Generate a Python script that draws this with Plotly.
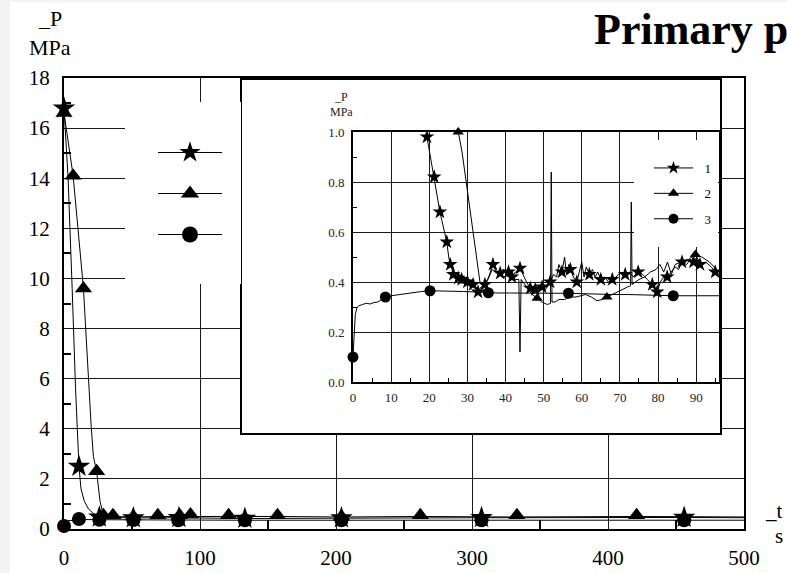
import plotly.graph_objects as go

W, H = 787, 573

# ---------------- main panel data (t in s, P in MPa) ----------------
main_t1 = [0, 3, 6, 8.5, 11, 12.5, 15, 18, 22, 26, 51, 84.5, 133, 204, 307, 456, 500]
main_p1 = [16.8, 14.0, 9.6, 5.6, 2.5, 1.6, 1.1, 0.8, 0.6, 0.47, 0.44, 0.45, 0.42, 0.44, 0.45, 0.46, 0.45]
mark1_t = [0, 11, 26, 51, 84.5, 133, 204, 307, 456]
mark1_p = [16.8, 2.5, 0.47, 0.44, 0.45, 0.42, 0.44, 0.45, 0.46]

main_t2 = [0, 6.7, 14.3, 17, 18.5, 20, 21.6, 24, 26.5, 29, 36, 51, 69, 85, 93, 121, 157, 204, 262, 333, 421, 500]
main_p2 = [16.6, 14.1, 9.6, 6.8, 5.4, 4.1, 2.9, 2.3, 1.1, 0.55, 0.5, 0.48, 0.5, 0.5, 0.52, 0.5, 0.5, 0.48, 0.5, 0.48, 0.5, 0.48]
mark2_t = [0, 6.7, 14.3, 24, 29, 36, 51, 69, 85, 93, 121, 157, 204, 262, 333, 421]
mark2_p = [16.6, 14.1, 9.6, 2.3, 0.55, 0.55, 0.5, 0.55, 0.55, 0.58, 0.55, 0.55, 0.5, 0.55, 0.55, 0.55]

main_t3 = [0, 0.5, 2, 5, 11, 26, 51, 84, 133, 204, 307, 456, 500]
main_p3 = [0.12, 0.3, 0.32, 0.33, 0.38, 0.37, 0.36, 0.35, 0.35, 0.35, 0.35, 0.35, 0.35]
mark3_t = [0, 11, 26, 51, 84, 133, 204, 307, 456]
mark3_p = [0.12, 0.4, 0.37, 0.36, 0.35, 0.35, 0.35, 0.35, 0.35]

main_xticks = [0, 100, 200, 300, 400, 500]
main_xminor = [50, 150, 250, 350, 450]
main_yticks = [0, 2, 4, 6, 8, 10, 12, 14, 16, 18]
main_yminor = [1, 3, 5, 7, 9, 11, 13, 15, 17]

# ---------------- inset data (first 96 s) ----------------
ins1_t = [19.4, 20.3, 21.3, 22.0, 22.8, 23.7, 24.6, 25.1, 25.5, 26.0, 26.3, 27.0, 27.6, 28.0, 28.5,
          29.2, 30.0, 30.7, 31.5, 32.2, 32.8, 33.6, 34.6, 35.6, 36.7, 37.6, 38.6, 39.5, 40.2, 40.8,
          41.7, 42.6, 43.8, 44.6, 45.5, 46.5, 47.8, 48.6, 49.6, 50.5, 51.7, 52.6, 53.4, 54.0, 54.8,
          55.5, 56.0, 56.6, 57.0, 57.8, 58.7, 59.3, 60.0, 60.6, 61.2, 62.0, 62.8, 63.5, 64.2, 65.0,
          66.0, 67.0, 68.0, 69.0, 70.2, 71.4, 72.5, 73.5, 74.8, 76.0, 77.2, 78.5, 79.2, 79.8, 80.6,
          81.5, 82.4, 83.5, 84.5, 85.4, 86.3, 87.5, 88.4, 89.3, 90.2, 91.0, 92.5, 94.0, 95.0, 96.0]
ins1_p = [0.98, 0.90, 0.82, 0.75, 0.68, 0.62, 0.56, 0.50, 0.47, 0.45, 0.43, 0.44, 0.415, 0.43, 0.41,
          0.42, 0.40, 0.41, 0.39, 0.38, 0.36, 0.38, 0.39, 0.42, 0.47, 0.44, 0.435, 0.45, 0.43, 0.44,
          0.42, 0.44, 0.455, 0.43, 0.40, 0.375, 0.37, 0.36, 0.38, 0.37, 0.40, 0.43, 0.42, 0.47, 0.44,
          0.50, 0.43, 0.47, 0.45, 0.42, 0.40, 0.44, 0.48, 0.42, 0.46, 0.43, 0.45, 0.42, 0.44, 0.41,
          0.42, 0.40, 0.41, 0.42, 0.44, 0.43, 0.44, 0.42, 0.44, 0.43, 0.41, 0.39, 0.37, 0.36, 0.40,
          0.42, 0.42, 0.44, 0.46, 0.45, 0.48, 0.47, 0.49, 0.48, 0.50, 0.47, 0.48, 0.46, 0.44, 0.43]
ins1_mark_t = [19.4, 21.3, 22.8, 24.6, 25.5, 26.3, 27.6, 28.5, 30.0, 31.5, 32.8, 34.6, 36.7, 38.6,
               40.8, 41.7, 43.8, 46.5, 47.8, 49.6, 51.7, 54.8, 57.0, 58.7, 62.0, 65.0, 68.0, 71.4,
               74.8, 78.5, 79.8, 82.4, 86.3, 89.3, 91.0, 95.0]
ins1_mark_p = [0.98, 0.82, 0.68, 0.56, 0.47, 0.43, 0.415, 0.41, 0.40, 0.39, 0.36, 0.39, 0.47, 0.435,
               0.44, 0.42, 0.455, 0.375, 0.37, 0.38, 0.40, 0.44, 0.45, 0.40, 0.43, 0.41, 0.41, 0.43,
               0.44, 0.39, 0.36, 0.42, 0.48, 0.48, 0.47, 0.44]

ins2_t = [27.6, 28.6, 29.6, 30.7, 31.8, 33.3, 34.3, 35.4, 36.5, 37.5, 38.6, 39.6, 40.6, 41.6, 42.6,
          43.5, 43.8, 44.1, 45.0, 46.0, 47.0, 48.3, 49.5, 51.0, 51.8, 52.0, 52.2, 53.0, 54.0, 55.5,
          57.0, 58.5, 59.6, 61.0, 62.5, 64.0, 65.3, 66.6, 68.0, 69.0, 70.5, 72.0, 72.8, 73.0, 73.2,
          74.0, 75.0, 76.5, 78.0, 79.5, 80.5, 81.5, 82.5, 83.5, 84.5, 86.0, 88.0, 89.8, 91.5, 93.5,
          95.5, 96.0]
ins2_p = [1.0, 0.92, 0.81, 0.69, 0.56, 0.40, 0.38, 0.41, 0.45, 0.44, 0.43, 0.42, 0.43, 0.42, 0.41,
          0.41, 0.12, 0.41, 0.39, 0.37, 0.35, 0.335, 0.32, 0.31, 0.315, 0.84, 0.32, 0.32, 0.33, 0.33,
          0.34, 0.34, 0.345, 0.35, 0.34, 0.325, 0.33, 0.34, 0.35, 0.36, 0.37, 0.38, 0.385, 0.72, 0.39,
          0.40, 0.41, 0.42, 0.44, 0.45, 0.47, 0.44, 0.48, 0.43, 0.47, 0.48, 0.49, 0.51, 0.50, 0.48,
          0.45, 0.44]
ins2_mark_t = [27.6, 48.3, 66.6, 89.8]
ins2_mark_p = [1.0, 0.335, 0.34, 0.51]

ins3_t = [0, 0.3, 0.6, 1.0, 1.5, 2.5, 3.5, 4.5, 5.5, 6.5, 7.5, 8.5, 10, 12, 14, 16, 18, 20.2, 23, 26,
          29, 32, 35.5, 38, 41, 44, 47, 50, 53, 56.5, 60, 64, 68, 72, 76, 80, 84, 90, 96]
ins3_p = [0.1, 0.2, 0.27, 0.295, 0.305, 0.31, 0.315, 0.312, 0.318, 0.32, 0.33, 0.34, 0.345, 0.35,
          0.355, 0.36, 0.362, 0.365, 0.365, 0.364, 0.362, 0.36, 0.357, 0.356, 0.356, 0.355, 0.355,
          0.355, 0.355, 0.355, 0.353, 0.352, 0.35, 0.35, 0.348, 0.347, 0.345, 0.345, 0.345]
ins3_mark_t = [0, 8.5, 20.2, 35.5, 56.5, 84]
ins3_mark_p = [0.1, 0.34, 0.365, 0.357, 0.355, 0.345]

ins_xticks = [0, 10, 20, 30, 40, 50, 60, 70, 80, 90]
ins_xminor = [5, 15, 25, 35, 45, 55, 65, 75, 85, 95]
ins_yticks = [0.0, 0.2, 0.4, 0.6, 0.8, 1.0]
ins_yminor = [0.1, 0.3, 0.5, 0.7, 0.9]

series_labels = ["1", "2", "3"]
symbols = ["star", "triangle-up", "circle"]

# ---------------- helpers for layout positions (pixels -> paper) ----------------
def px(x):
    return x / W


def py(y):
    return 1 - y / H


SERIF = "Liberation Serif"
fig = go.Figure()

# ---- main panel ----
main_lines = [(main_t1, main_p1), (main_t2, main_p2), (main_t3, main_p3)]
main_marks = [(mark1_t, mark1_p, 17), (mark2_t, mark2_p, 15), (mark3_t, mark3_p, 14)]
for (t, p) in main_lines:
    fig.add_trace(go.Scatter(x=t, y=p, mode="lines", line=dict(color="black", width=1),
                             xaxis="x", yaxis="y", showlegend=False, hoverinfo="skip"))
for (t, p, s), sym in zip(main_marks, symbols):
    fig.add_trace(go.Scatter(x=t, y=p, mode="markers", cliponaxis=False,
                             marker=dict(symbol=sym, size=s, color="black"),
                             xaxis="x", yaxis="y", showlegend=False, hoverinfo="skip"))

# ---- inset cover (white box with frame) ----
fig.add_trace(go.Scatter(x=[None], y=[None], xaxis="x2", yaxis="y2", showlegend=False, hoverinfo="skip"))

# ---- inset panel ----
ins_lines = [(ins1_t, ins1_p), (ins2_t, ins2_p), (ins3_t, ins3_p)]
ins_marks = [(ins1_mark_t, ins1_mark_p, 11), (ins2_mark_t, ins2_mark_p, 10), (ins3_mark_t, ins3_mark_p, 11)]
for (t, p) in ins_lines:
    fig.add_trace(go.Scatter(x=t, y=p, mode="lines", line=dict(color="black", width=1),
                             xaxis="x3", yaxis="y3", showlegend=False, hoverinfo="skip"))
for (t, p, s), sym in zip(ins_marks, symbols):
    fig.add_trace(go.Scatter(x=t, y=p, mode="markers", cliponaxis=False,
                             marker=dict(symbol=sym, size=s, color="black"),
                             xaxis="x3", yaxis="y3", showlegend=False, hoverinfo="skip"))

# ---- legends (entries only, no data) ----
for i, sym in enumerate(symbols):
    fig.add_trace(go.Scatter(x=[None], y=[None], mode="lines+markers", name="\u00a0",
                             line=dict(color="black", width=1.2),
                             marker=dict(symbol=sym, size=18, color="black"),
                             legend="legend", legendgroup="m%d" % i, xaxis="x", yaxis="y"))
for i, sym in enumerate(symbols):
    fig.add_trace(go.Scatter(x=[None], y=[None], mode="lines+markers",
                             name="\u00a0\u00a0" + series_labels[i],
                             line=dict(color="black", width=1),
                             marker=dict(symbol=sym, size=10, color="black"),
                             legend="legend2", legendgroup="i%d" % i, xaxis="x3", yaxis="y3"))

axis_common = dict(showline=True, linecolor="black", mirror=True, zeroline=False,
                   gridcolor="#1a1a1a", ticks="", fixedrange=True, automargin=False)

fig.update_layout(
    width=W, height=H, margin=dict(l=0, r=0, t=0, b=0, autoexpand=False),
    paper_bgcolor="#f4f4f4", plot_bgcolor="white",
    font=dict(family=SERIF, color="black"),
    xaxis=dict(domain=[px(64), px(744)], range=[0, 500], anchor="y",
               tickvals=main_xticks, ticktext=[str(v) for v in main_xticks],
               showgrid=True, gridwidth=1.4, linewidth=2, tickfont=dict(size=21, family=SERIF),
               ticklabelstandoff=9,
               minor=dict(tickvals=main_xminor, ticks="inside", ticklen=9, tickwidth=1.5,
                          tickcolor="black", showgrid=False),
               **axis_common),
    yaxis=dict(domain=[py(529), py(78)], range=[0, 18], anchor="x",
               tickvals=main_yticks, ticktext=[str(v) for v in main_yticks],
               showgrid=True, gridwidth=1.4, linewidth=2, tickfont=dict(size=21, family=SERIF),
               ticklabelstandoff=8,
               minor=dict(tickvals=main_yminor, ticks="inside", ticklen=7, tickwidth=1.5,
                          tickcolor="black", showgrid=False),
               **axis_common),
    xaxis2=dict(domain=[px(242), px(720)], range=[0, 1], anchor="y2", showgrid=False,
                showticklabels=False, linewidth=1.5, **axis_common),
    yaxis2=dict(domain=[py(433), py(80)], range=[0, 1], anchor="x2", showgrid=False,
                showticklabels=False, linewidth=1.5, **axis_common),
    xaxis3=dict(domain=[px(353), px(719)], range=[0, 96], anchor="y3",
                tickvals=ins_xticks, ticktext=[str(v) for v in ins_xticks],
                showgrid=True, gridwidth=1.4, linewidth=1.6,
                tickfont=dict(size=13, color="#222", family=SERIF), ticklabelstandoff=3,
                minor=dict(tickvals=ins_xminor, ticks="inside", ticklen=4, tickwidth=1.2,
                           tickcolor="black", showgrid=False),
                **axis_common),
    yaxis3=dict(domain=[py(382), py(132)], range=[0, 1], anchor="x3",
                tickvals=ins_yticks, ticktext=["%.1f" % v for v in ins_yticks],
                showgrid=True, gridwidth=1.4, linewidth=1.6,
                tickfont=dict(size=13, color="#222", family=SERIF), ticklabelstandoff=4,
                minor=dict(tickvals=ins_yminor, ticks="inside", ticklen=4, tickwidth=1.2,
                           tickcolor="black", showgrid=False),
                **axis_common),
    legend=dict(x=px(153), y=py(138), xanchor="left", yanchor="top", bgcolor="rgba(0,0,0,0)",
                borderwidth=0, itemwidth=64, tracegroupgap=22, traceorder="grouped",
                font=dict(size=12, family=SERIF), itemclick=False, itemdoubleclick=False),
    legend2=dict(x=px(649), y=py(153), xanchor="left", yanchor="top", bgcolor="rgba(0,0,0,0)",
                 borderwidth=0, itemwidth=39, tracegroupgap=5.5, traceorder="grouped",
                 font=dict(size=13, family=SERIF), itemclick=False, itemdoubleclick=False),
    shapes=[
        dict(type="rect", xref="paper", yref="paper", x0=px(10), x1=1, y0=0, y1=py(2),
             fillcolor="white", line=dict(width=0), layer="below"),
        # white panels behind the two legends (hide grid lines)
        dict(type="rect", xref="paper", yref="paper",
             x0=px(125), x1=px(241), y0=py(284), y1=py(102),
             fillcolor="white", line=dict(width=0), layer="above"),
        dict(type="rect", xref="paper", yref="paper",
             x0=px(634), x1=px(718), y0=py(247), y1=py(140),
             fillcolor="white", line=dict(width=0), layer="above"),
    ],
    annotations=[
        dict(text="<b>Primary p</b>", x=px(592), y=py(30), xref="paper", yref="paper",
             xanchor="left", yanchor="middle", showarrow=False,
             font=dict(size=44, family=SERIF, color="black")),
        dict(text="_P", x=px(50), y=py(18), xref="paper", yref="paper", xanchor="center",
             yanchor="middle", showarrow=False, font=dict(size=22, family=SERIF)),
        dict(text="MPa", x=px(50), y=py(47), xref="paper", yref="paper", xanchor="center",
             yanchor="middle", showarrow=False, font=dict(size=22, family=SERIF)),
        dict(text="_t", x=px(785), y=py(511), xref="paper", yref="paper", xanchor="right",
             yanchor="middle", showarrow=False, font=dict(size=21, family=SERIF)),
        dict(text="s", x=px(785), y=py(536), xref="paper", yref="paper", xanchor="right",
             yanchor="middle", showarrow=False, font=dict(size=21, family=SERIF)),
        dict(text="_P", x=px(341), y=py(97), xref="paper", yref="paper", xanchor="center",
             yanchor="middle", showarrow=False, font=dict(size=12, family=SERIF, color="#222")),
        dict(text="MPa", x=px(341), y=py(112), xref="paper", yref="paper", xanchor="center",
             yanchor="middle", showarrow=False, font=dict(size=12, family=SERIF, color="#222")),
    ],
)

fig.write_html("out.html")
